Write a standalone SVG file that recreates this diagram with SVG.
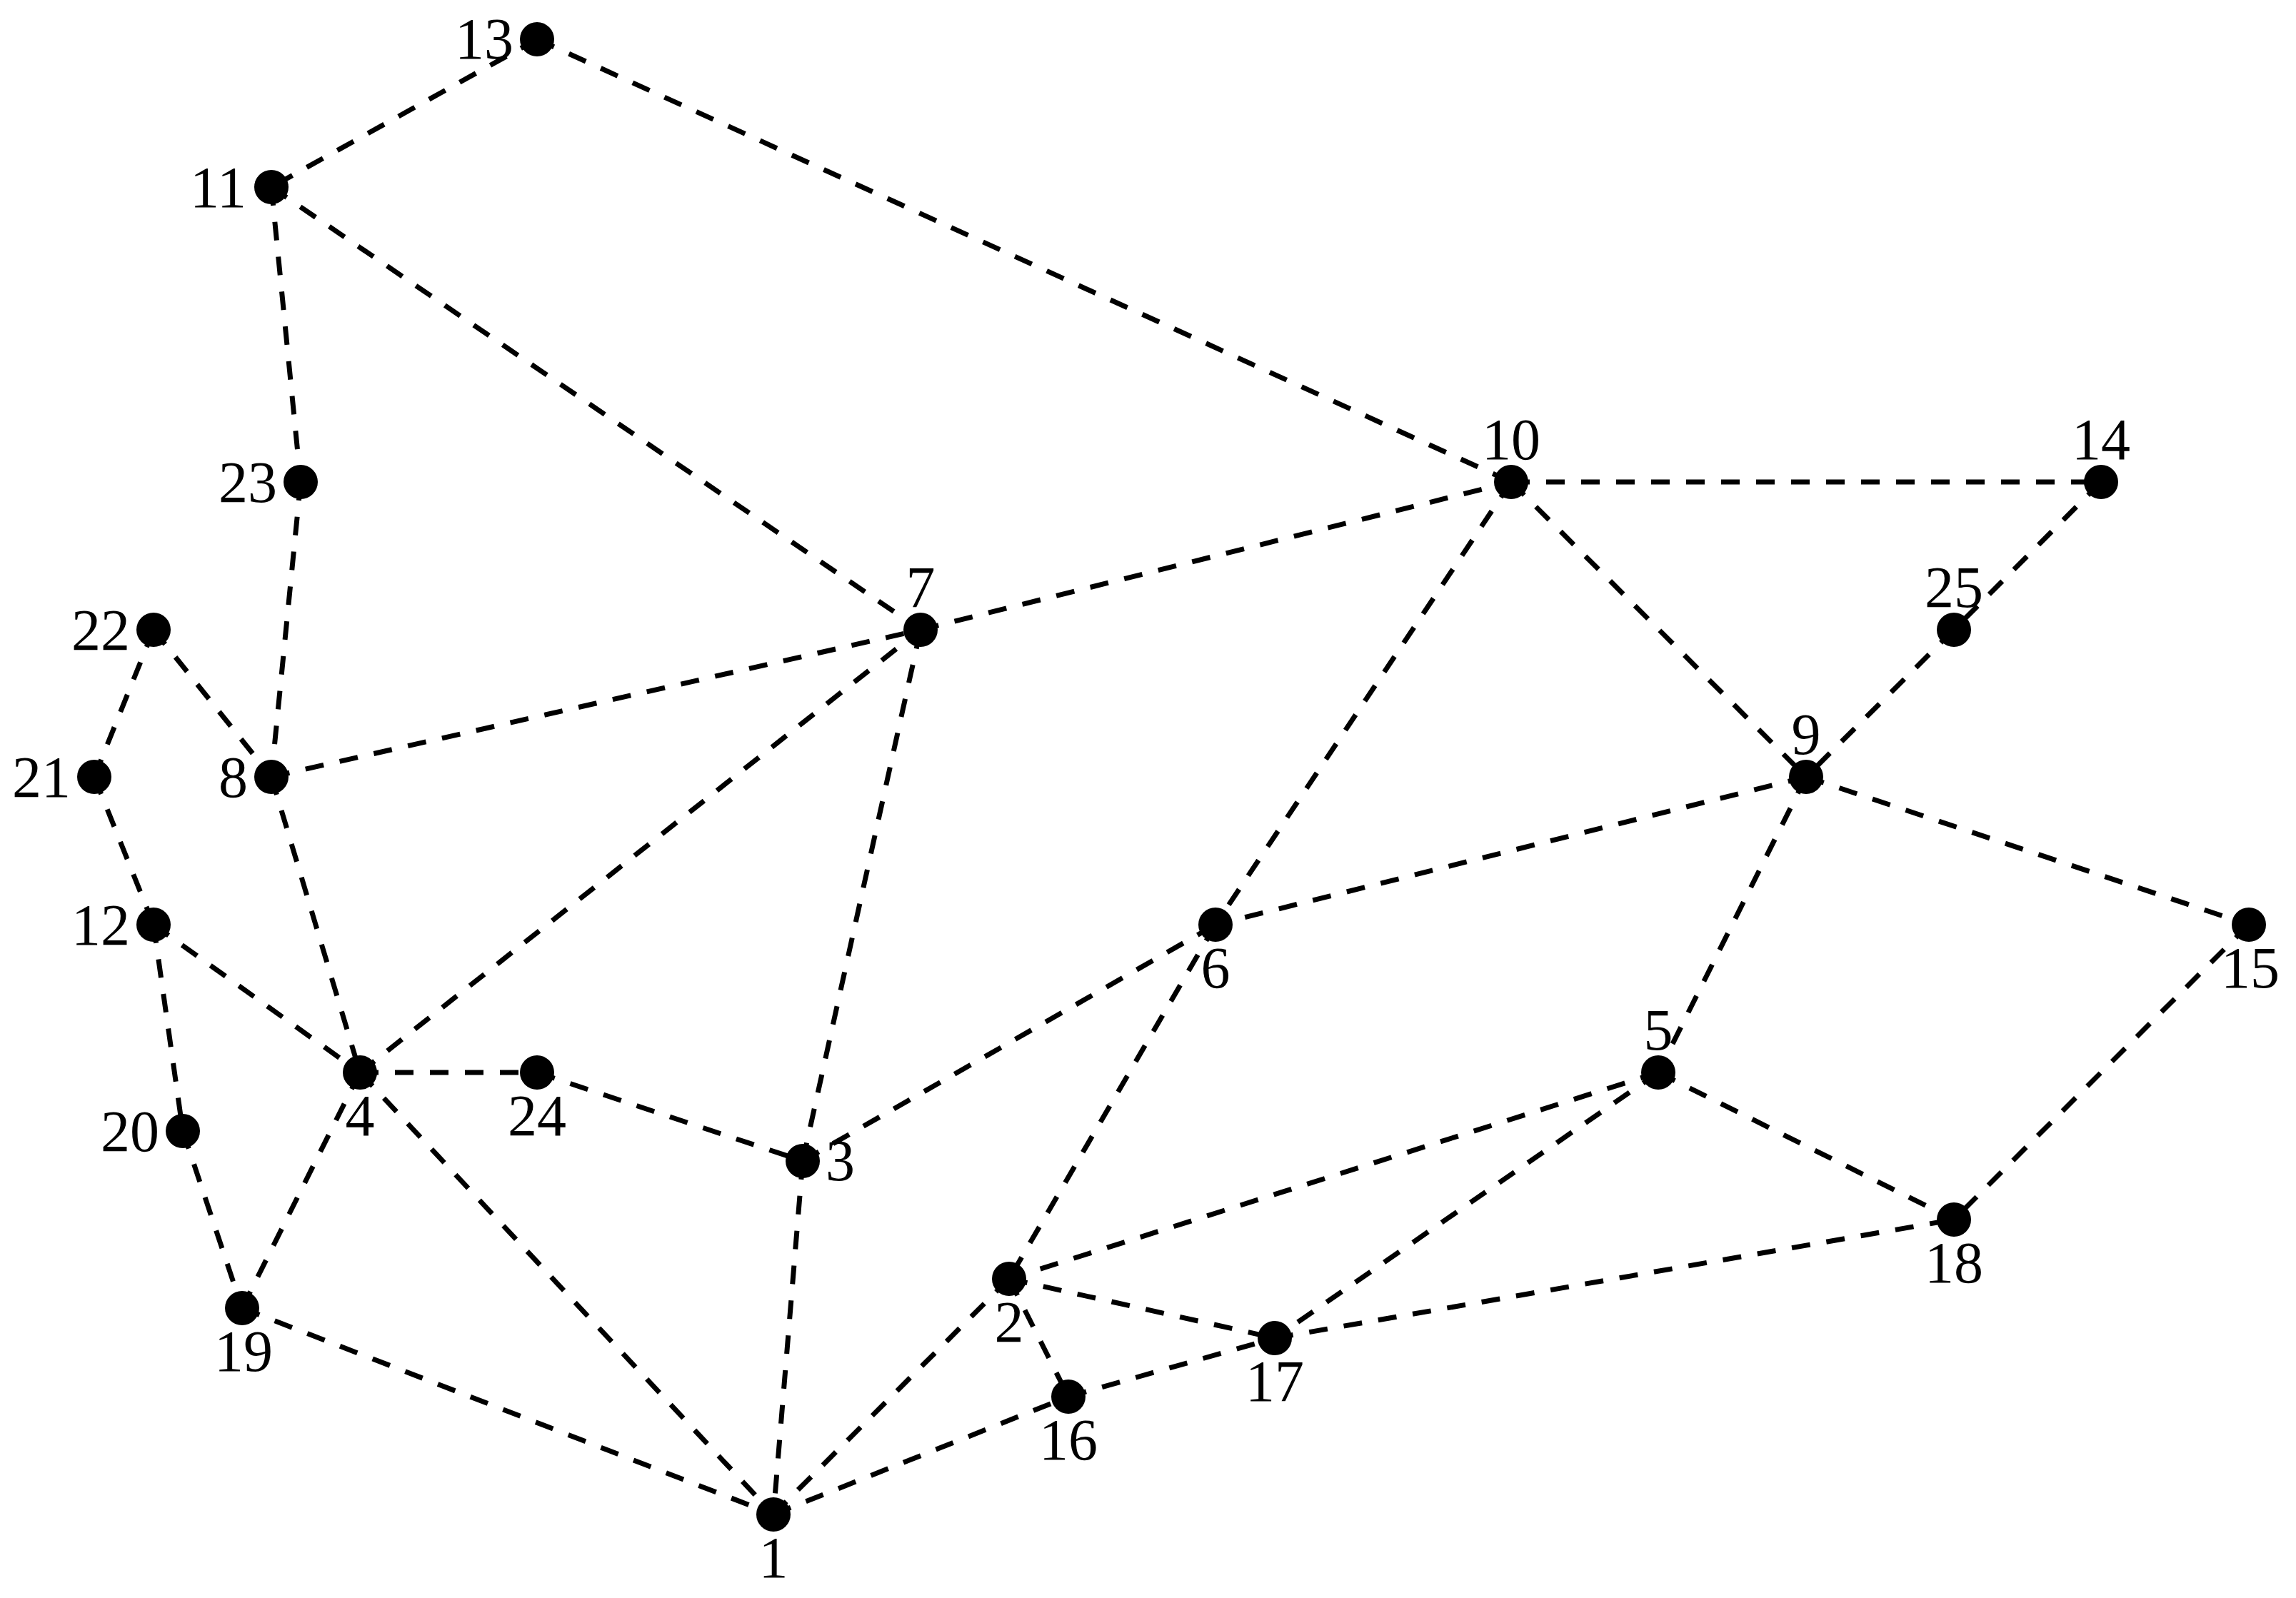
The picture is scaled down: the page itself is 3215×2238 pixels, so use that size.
<svg xmlns="http://www.w3.org/2000/svg" width="3215" height="2238" viewBox="0 0 3215 2238">
<style>
.e{stroke:#000;stroke-width:7;stroke-dasharray:26 23;fill:none}
.n circle{fill:#000}
.n text{font-family:"Liberation Serif","DejaVu Serif",serif;font-size:82px;fill:#000}
.l{text-anchor:end}
.c{text-anchor:middle}
.r{text-anchor:start}
</style>
<rect width="3215" height="2238" fill="#fff"/>
<g id="edges">
<line class="e" x1="752" y1="55" x2="380" y2="262"/>
<line class="e" x1="752" y1="55" x2="2116" y2="675"/>
<line class="e" x1="380" y1="262" x2="421" y2="675"/>
<line class="e" x1="380" y1="262" x2="1289" y2="882"/>
<line class="e" x1="421" y1="675" x2="380" y2="1088"/>
<line class="e" x1="215" y1="882" x2="132" y2="1088"/>
<line class="e" x1="215" y1="882" x2="380" y2="1088"/>
<line class="e" x1="132" y1="1088" x2="215" y2="1295"/>
<line class="e" x1="380" y1="1088" x2="1289" y2="882"/>
<line class="e" x1="380" y1="1088" x2="504" y2="1502"/>
<line class="e" x1="215" y1="1295" x2="504" y2="1502"/>
<line class="e" x1="215" y1="1295" x2="256" y2="1584"/>
<line class="e" x1="256" y1="1584" x2="339" y2="1832"/>
<line class="e" x1="339" y1="1832" x2="504" y2="1502"/>
<line class="e" x1="339" y1="1832" x2="1083" y2="2121"/>
<line class="e" x1="504" y1="1502" x2="752" y2="1502"/>
<line class="e" x1="504" y1="1502" x2="1289" y2="882"/>
<line class="e" x1="504" y1="1502" x2="1083" y2="2121"/>
<line class="e" x1="752" y1="1502" x2="1124" y2="1626"/>
<line class="e" x1="1124" y1="1626" x2="1289" y2="882"/>
<line class="e" x1="1124" y1="1626" x2="1702" y2="1295"/>
<line class="e" x1="1124" y1="1626" x2="1083" y2="2121"/>
<line class="e" x1="1289" y1="882" x2="2116" y2="675"/>
<line class="e" x1="2116" y1="675" x2="2942" y2="675"/>
<line class="e" x1="2116" y1="675" x2="2529" y2="1088"/>
<line class="e" x1="2116" y1="675" x2="1702" y2="1295"/>
<line class="e" x1="2942" y1="675" x2="2736" y2="882"/>
<line class="e" x1="2736" y1="882" x2="2529" y2="1088"/>
<line class="e" x1="2529" y1="1088" x2="1702" y2="1295"/>
<line class="e" x1="2529" y1="1088" x2="2322" y2="1502"/>
<line class="e" x1="2529" y1="1088" x2="3149" y2="1295"/>
<line class="e" x1="3149" y1="1295" x2="2736" y2="1708"/>
<line class="e" x1="2322" y1="1502" x2="2736" y2="1708"/>
<line class="e" x1="2322" y1="1502" x2="1413" y2="1791"/>
<line class="e" x1="2322" y1="1502" x2="1785" y2="1874"/>
<line class="e" x1="1702" y1="1295" x2="1413" y2="1791"/>
<line class="e" x1="1413" y1="1791" x2="1083" y2="2121"/>
<line class="e" x1="1413" y1="1791" x2="1496" y2="1956"/>
<line class="e" x1="1413" y1="1791" x2="1785" y2="1874"/>
<line class="e" x1="1496" y1="1956" x2="1785" y2="1874"/>
<line class="e" x1="1083" y1="2121" x2="1496" y2="1956"/>
<line class="e" x1="1785" y1="1874" x2="2736" y2="1708"/>
</g>
<g id="n1" class="n"><circle cx="1083" cy="2121" r="24"/><text class="c" x="1083" y="2209">1</text></g>
<g id="n2" class="n"><circle cx="1413" cy="1791" r="24"/><text class="c" x="1413" y="1879">2</text></g>
<g id="n3" class="n"><circle cx="1124" cy="1626" r="24"/><text class="r" x="1156" y="1653">3</text></g>
<g id="n4" class="n"><circle cx="504" cy="1502" r="24"/><text class="c" x="504" y="1590">4</text></g>
<g id="n5" class="n"><circle cx="2322" cy="1502" r="24"/><text class="c" x="2322" y="1470">5</text></g>
<g id="n6" class="n"><circle cx="1702" cy="1295" r="24"/><text class="c" x="1702" y="1383">6</text></g>
<g id="n7" class="n"><circle cx="1289" cy="882" r="24"/><text class="c" x="1289" y="850">7</text></g>
<g id="n8" class="n"><circle cx="380" cy="1088" r="24"/><text class="l" x="347" y="1116">8</text></g>
<g id="n9" class="n"><circle cx="2529" cy="1088" r="24"/><text class="c" x="2529" y="1056">9</text></g>
<g id="n10" class="n"><circle cx="2116" cy="675" r="24"/><text class="c" x="2116" y="643">10</text></g>
<g id="n11" class="n"><circle cx="380" cy="262" r="24"/><text class="l" x="345" y="290">11</text></g>
<g id="n12" class="n"><circle cx="215" cy="1295" r="24"/><text class="l" x="182" y="1323">12</text></g>
<g id="n13" class="n"><circle cx="752" cy="55" r="24"/><text class="l" x="719" y="82">13</text></g>
<g id="n14" class="n"><circle cx="2942" cy="675" r="24"/><text class="c" x="2942" y="643">14</text></g>
<g id="n15" class="n"><circle cx="3149" cy="1295" r="24"/><text class="c" x="3151" y="1383">15</text></g>
<g id="n16" class="n"><circle cx="1496" cy="1956" r="24"/><text class="c" x="1496" y="2044">16</text></g>
<g id="n17" class="n"><circle cx="1785" cy="1874" r="24"/><text class="c" x="1785" y="1962">17</text></g>
<g id="n18" class="n"><circle cx="2736" cy="1708" r="24"/><text class="c" x="2736" y="1796">18</text></g>
<g id="n19" class="n"><circle cx="339" cy="1832" r="24"/><text class="c" x="341" y="1920">19</text></g>
<g id="n20" class="n"><circle cx="256" cy="1584" r="24"/><text class="l" x="223" y="1612">20</text></g>
<g id="n21" class="n"><circle cx="132" cy="1088" r="24"/><text class="l" x="99" y="1116">21</text></g>
<g id="n22" class="n"><circle cx="215" cy="882" r="24"/><text class="l" x="182" y="910">22</text></g>
<g id="n23" class="n"><circle cx="421" cy="675" r="24"/><text class="l" x="388" y="703">23</text></g>
<g id="n24" class="n"><circle cx="752" cy="1502" r="24"/><text class="c" x="752" y="1590">24</text></g>
<g id="n25" class="n"><circle cx="2736" cy="882" r="24"/><text class="c" x="2736" y="850">25</text></g>
</svg>
